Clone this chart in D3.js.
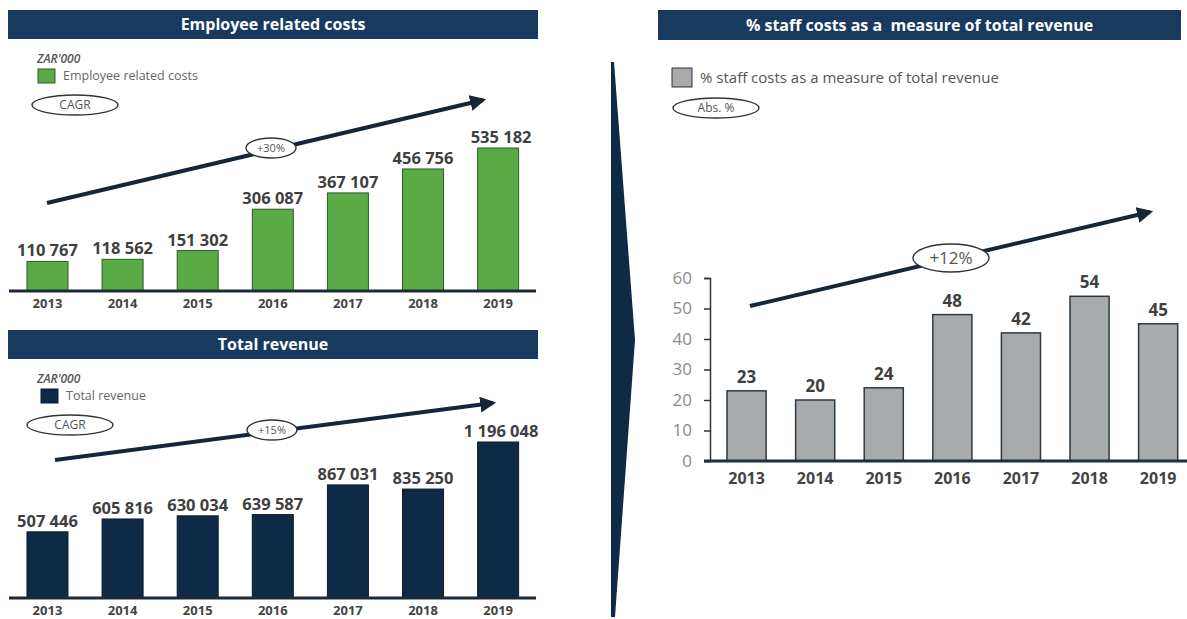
<!DOCTYPE html>
<html>
<head>
<meta charset="utf-8">
<script src="https://cdn.jsdelivr.net/npm/d3@7"></script>
<style>
  body { margin: 0; background: #fff; }
  svg { display: block; font-family: "Open Sans", sans-serif; }
</style>
</head>
<body>
<svg id="chart" width="1187" height="619"></svg>
<script>
// data
const years = ["2013", "2014", "2015", "2016", "2017", "2018", "2019"];
const employeeCosts = [110767, 118562, 151302, 306087, 367107, 456756, 535182];
const totalRevenue = [507446, 605816, 630034, 639587, 867031, 835250, 1196048];
const staffPct = [23, 20, 24, 48, 42, 54, 45];
const pctTicks = [0, 10, 20, 30, 40, 50, 60];
const cagrLabels = ["+30%", "+15%", "+12%"];

const navy = "#173a5e";
const fmt = d3.formatLocale({ decimal: ".", thousands: " ", grouping: [3], currency: ["", ""] }).format(",d");

const svg = d3.select("#chart");

// title bar helper
function titleBar(x0, x1, y0, y1, text, size) {
  svg.append("rect").attr("x", x0).attr("y", y0).attr("width", x1 - x0).attr("height", y1 - y0)
    .attr("fill", navy);
  svg.append("text").attr("x", (x0 + x1) / 2).attr("y", (y0 + y1) / 2 + 5.5)
    .attr("text-anchor", "middle").attr("fill", "#fff")
    .style("font-size", size + "px").style("font-weight", 700).style("white-space", "pre")
    .text(text);
}

// oval label helper (CAGR / Abs. % / growth badges)
function oval(cx, cy, rx, ry, text, size) {
  svg.append("ellipse").attr("cx", cx).attr("cy", cy).attr("rx", rx).attr("ry", ry)
    .attr("fill", "#fff").attr("stroke", "#333").attr("stroke-width", 1.4);
  svg.append("text").attr("x", cx).attr("y", cy + size * 0.36)
    .attr("text-anchor", "middle").attr("fill", "#555")
    .style("font-size", size + "px")
    .text(text);
}

// arrow marker
svg.append("defs").append("marker")
  .attr("id", "head").attr("viewBox", "0 0 10 10").attr("refX", 8).attr("refY", 5)
  .attr("markerWidth", 4).attr("markerHeight", 4).attr("orient", "auto")
  .append("path").attr("d", "M0,0L10,5L0,10z").attr("fill", "#162638");

function trendArrow(x1, y1, x2, y2) {
  svg.append("line").attr("x1", x1).attr("y1", y1).attr("x2", x2).attr("y2", y2)
    .attr("stroke", "#162638").attr("stroke-width", 4).attr("marker-end", "url(#head)");
}

// a left-hand panel (no y axis, values on top)
function leftPanel(cfg) {
  titleBar(8, 538, cfg.top, cfg.top + 29, cfg.title, 16);

  svg.append("text").attr("x", 37).attr("y", cfg.top + 53)
    .attr("fill", "#555").style("font-size", "12px").style("font-style", "italic").style("font-weight", 600)
    .text("ZAR'000");
  svg.append("rect").attr("x", cfg.legendX).attr("y", cfg.top + 59).attr("width", 17).attr("height", 14)
    .attr("fill", cfg.fill).attr("stroke", cfg.stroke).attr("stroke-width", 1);
  svg.append("text").attr("x", cfg.legendX + 25).attr("y", cfg.top + 70)
    .attr("fill", "#666").style("font-size", "12.5px")
    .text(cfg.title);
  oval(cfg.cagrX, cfg.top + 95, 43, 10, "CAGR", 12);

  const x = d3.scaleBand().domain(years).range([10, 535.6]).paddingInner(0.454).paddingOuter(0.226);
  const y = d3.scaleLinear().domain([0, d3.max(cfg.values)]).range([cfg.base, cfg.topBar]);

  trendArrow(...cfg.arrow);
  oval(cfg.badge[0], cfg.badge[1], 25, 10, cfg.badgeText, 11);

  svg.append("g").selectAll("rect").data(cfg.values).join("rect")
    .attr("x", (d, i) => x(years[i]))
    .attr("y", d => y(d))
    .attr("width", x.bandwidth())
    .attr("height", d => cfg.base - y(d))
    .attr("fill", cfg.fill).attr("stroke", cfg.stroke).attr("stroke-width", 1);

  svg.append("g").selectAll("text").data(cfg.values).join("text")
    .attr("x", (d, i) => x(years[i]) + x.bandwidth() / 2 + (i === 6 ? 3 : 0))
    .attr("y", d => y(d) - 5)
    .attr("text-anchor", "middle").attr("fill", "#3f3f3f")
    .style("font-size", "16.5px").style("font-weight", 700)
    .text(d => fmt(d));

  svg.append("line").attr("x1", 9).attr("x2", 536).attr("y1", cfg.base).attr("y2", cfg.base)
    .attr("stroke", "#1b2b3c").attr("stroke-width", 3);

  const ax = svg.append("g").attr("transform", `translate(0,${cfg.base})`)
    .call(d3.axisBottom(x).tickSize(0).tickPadding(8));
  ax.select(".domain").remove();
  ax.selectAll("text").attr("fill", "#444").style("font-size", "13px").style("font-weight", 700)
    .style("font-family", "'Open Sans', sans-serif");
}

leftPanel({
  title: "Employee related costs", top: 10, values: employeeCosts,
  fill: "#5aab46", stroke: "#2e5a2b", legendX: 38, cagrX: 75,
  base: 291, topBar: 148,
  arrow: [47, 203, 483, 100], badge: [271, 148], badgeText: cagrLabels[0]
});

leftPanel({
  title: "Total revenue", top: 330, values: totalRevenue,
  fill: "#0f2a46", stroke: "#0a1d30", legendX: 41, cagrX: 70,
  base: 598, topBar: 442,
  arrow: [55, 460, 493, 403], badge: [272, 430], badgeText: cagrLabels[1]
});

// separator chevron
svg.append("path")
  .attr("d", "M611,62L614,62L635,340L615,617L611,617Z")
  .attr("fill", "#0f2a46");

// right panel
titleBar(658, 1181, 10, 40, "% staff costs as a  measure of total revenue", 16);
svg.append("rect").attr("x", 672).attr("y", 68).attr("width", 20).attr("height", 19)
  .attr("fill", "#a8aaac").attr("stroke", "#333").attr("stroke-width", 1);
svg.append("text").attr("x", 700).attr("y", 83)
  .attr("fill", "#555").style("font-size", "15px")
  .text("% staff costs as a measure of total revenue");
oval(716, 108, 43, 10, "Abs. %", 12);

const xr = d3.scaleBand().domain(years).range([710, 1194.7]).paddingInner(0.43).paddingOuter(0.248);
const yr = d3.scaleLinear().domain([0, 60]).range([461, 278]);

trendArrow(750, 306, 1150, 212);
oval(951, 258, 38, 14, cagrLabels[2], 17);

svg.append("g").selectAll("rect").data(staffPct).join("rect")
  .attr("x", (d, i) => xr(years[i]))
  .attr("y", d => yr(d))
  .attr("width", xr.bandwidth())
  .attr("height", d => 461 - yr(d))
  .attr("fill", "#a8aaac").attr("stroke", "#2b3a44").attr("stroke-width", 1.5);

svg.append("g").selectAll("text").data(staffPct).join("text")
  .attr("x", (d, i) => xr(years[i]) + xr.bandwidth() / 2)
  .attr("y", d => yr(d) - 8)
  .attr("text-anchor", "middle").attr("fill", "#3f3f3f")
  .style("font-size", "17px").style("font-weight", 700)
  .text(d => d);

const yAxis = svg.append("g").attr("transform", "translate(710,0)")
  .call(d3.axisLeft(yr).tickValues(pctTicks).tickSize(6).tickPadding(12));
yAxis.select(".domain").attr("stroke", "#333").attr("stroke-width", 1.5);
yAxis.selectAll(".tick line").attr("stroke", "#333").attr("stroke-width", 1.5);
yAxis.selectAll("text").attr("fill", "#8a8a8a").style("font-size", "17px")
  .style("font-family", "'Open Sans', sans-serif");

svg.append("line").attr("x1", 704).attr("x2", 1187).attr("y1", 461).attr("y2", 461)
  .attr("stroke", "#1b2f45").attr("stroke-width", 3);

const xAxisR = svg.append("g").attr("transform", "translate(0,461)")
  .call(d3.axisBottom(xr).tickSize(0).tickPadding(12));
xAxisR.select(".domain").remove();
xAxisR.selectAll("text").attr("fill", "#444").style("font-size", "16px").style("font-weight", 700)
  .style("font-family", "'Open Sans', sans-serif");
</script>
</body>
</html>
